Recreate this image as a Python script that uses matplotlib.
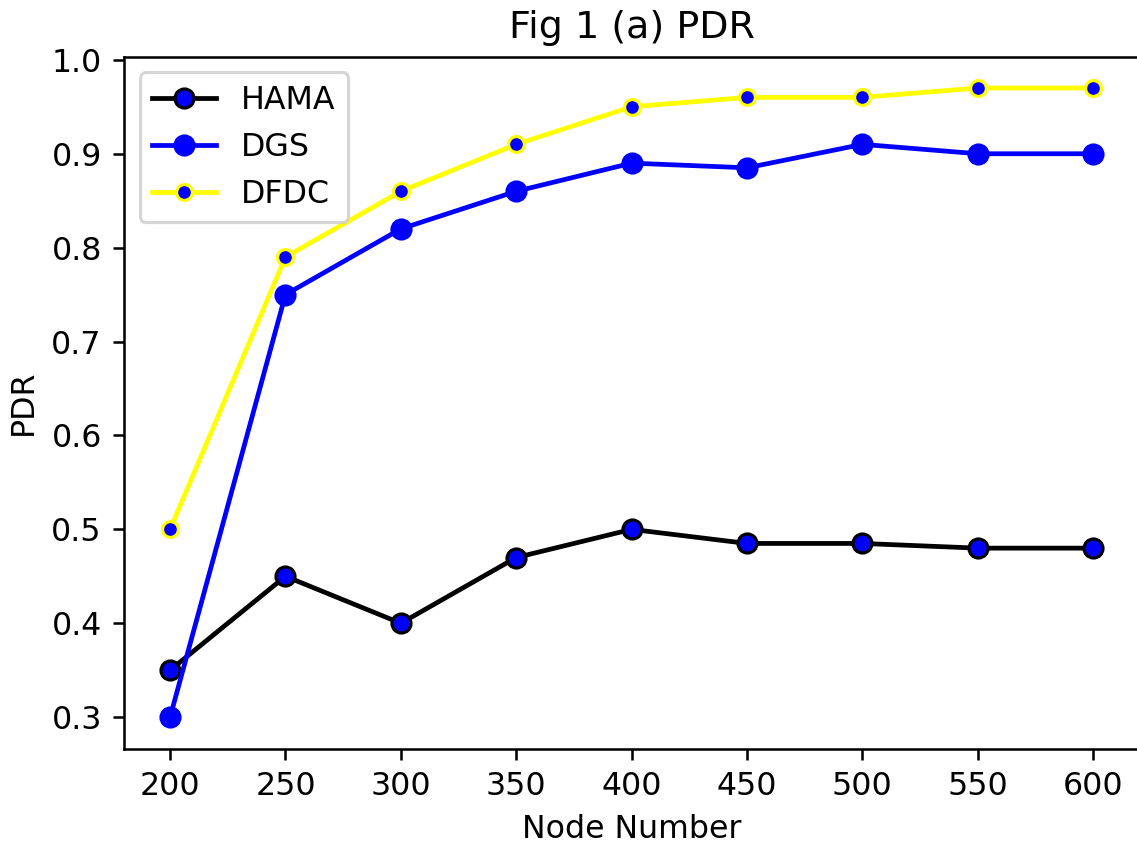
import matplotlib
matplotlib.use("Agg")
import matplotlib.pyplot as plt

# node counts on x axis
nodes = [200, 250, 300, 350, 400, 450, 500, 550, 600]

# PDR per protocol
hama = [0.35, 0.45, 0.40, 0.47, 0.50, 0.485, 0.485, 0.48, 0.48]
dgs = [0.30, 0.75, 0.82, 0.86, 0.89, 0.885, 0.91, 0.90, 0.90]
dfdc = [0.50, 0.79, 0.86, 0.91, 0.95, 0.96, 0.96, 0.97, 0.97]

dpi = 228
fig = plt.figure(figsize=(1137 / dpi, 844 / dpi), dpi=dpi)
ax = fig.add_axes([0.109, 0.113, 0.893, 0.820])

ax.plot(nodes, hama, color='black', marker='o', markersize=6,
        markerfacecolor='blue', markeredgecolor='black', label='HAMA')
ax.plot(nodes, dgs, color='blue', marker='o', markersize=6,
        markerfacecolor='blue', markeredgecolor='blue', label='DGS')
ax.plot(nodes, dfdc, color='yellow', marker='o', markersize=5,
        markerfacecolor='blue', markeredgecolor='yellow', label='DFDC')

ax.set_title('Fig 1 (a) PDR')
ax.set_xlabel('Node Number')
ax.set_ylabel('PDR')
ax.set_xticks(nodes)
ax.legend(loc='upper left')

fig.savefig('out.png', dpi=dpi)
